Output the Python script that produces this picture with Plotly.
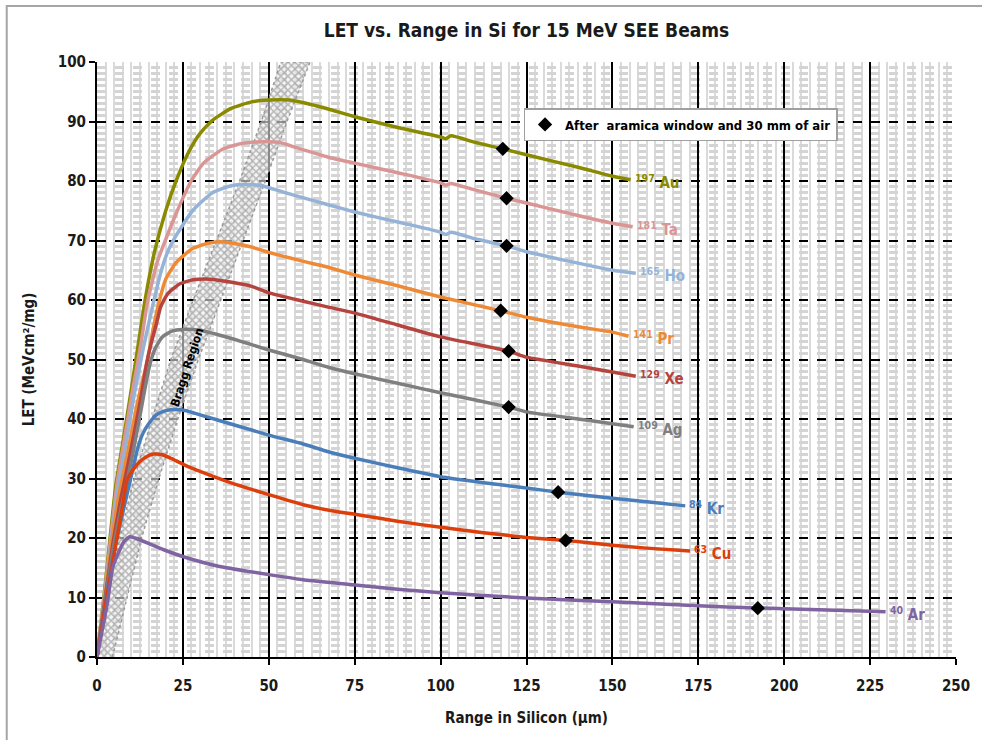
import plotly.graph_objects as go

FONT = "DejaVu Sans Condensed, Liberation Sans Narrow, Arial Narrow, sans-serif"

# ---- data (Range in Si, µm  /  LET, MeV·cm²/mg) ----
au_x = [0, 2, 3.8, 5.5, 7.5, 10, 12, 14, 16.7, 20, 23, 26.8, 30, 33.6, 39, 45, 50, 56, 62, 67.3, 75, 87.5, 100, 101.5, 103, 110, 118.1, 125, 140, 150, 155.3]
au_y = [0, 10, 20, 29, 36, 45, 52.5, 60, 68, 75, 80, 85, 88, 90.2, 92.2, 93.3, 93.6, 93.6, 92.9, 92.1, 90.8, 89.0, 87.4, 87.1, 87.6, 86.5, 85.4, 84.4, 82.3, 80.8, 80.2]

ta_x = [0, 2.1, 4, 5.8, 7.8, 10.4, 12.6, 14.8, 17.6, 20.2, 23, 27.4, 31, 36.4, 42, 48, 53, 58, 67.3, 75, 87.5, 100, 101.5, 103, 110, 119.2, 125, 140, 150, 155.9]
ta_y = [0, 10, 20, 29, 36, 45, 52, 60, 66.5, 70.5, 74.5, 80, 83, 85.3, 86.3, 86.6, 86.5, 85.6, 84, 83, 81.4, 79.7, 79.3, 79.6, 78.5, 77.1, 76.3, 74.2, 72.9, 72.3]

ho_x = [0, 2.2, 4.2, 6, 8.2, 10.8, 13.5, 16.2, 18.5, 20.5, 23, 27.8, 33.5, 39, 44, 48, 55, 67.3, 75, 87.5, 100, 101.5, 103, 110, 119.2, 125, 140, 150, 156.8]
ho_y = [0, 10, 20, 28, 35, 44, 52, 59, 64.5, 68, 70.8, 75, 78, 79.2, 79.4, 79.2, 78, 76, 74.8, 73.1, 71.4, 71.0, 71.4, 70.3, 69.1, 68.1, 66.2, 65, 64.5]

pr_x = [0, 2.3, 4.4, 6.3, 8.8, 11.5, 14.7, 16.3, 18.2, 20, 23, 27.7, 32, 36, 40, 45, 50, 60, 67.3, 75, 87.5, 100, 117.5, 125, 140, 150, 154.7]
pr_y = [0, 10, 20, 27, 34, 42, 50, 55, 60, 63.5, 66.3, 68.6, 69.5, 69.8, 69.5, 68.9, 68, 66.5, 65.5, 64.2, 62.4, 60.5, 58.2, 57.1, 55.5, 54.6, 53.9]

xe_x = [0, 2.4, 4.6, 6.9, 9.6, 12.6, 14.5, 15.8, 17.3, 18.5, 20.5, 24, 28, 33, 38, 45, 50, 60, 67.3, 75, 87.5, 100, 119.8, 125, 140, 150, 156.8]
xe_y = [0, 10, 19, 26.5, 34, 43, 49.5, 52.8, 56, 58.8, 61, 62.7, 63.4, 63.5, 63.1, 62.3, 61.2, 59.8, 58.8, 57.8, 55.8, 53.8, 51.4, 50.4, 48.9, 47.9, 47.2]

ag_x = [0, 2.5, 4.8, 7.2, 10, 12.5, 14.4, 15.5, 16.9, 19, 22, 26, 30, 35, 45, 50, 60, 67.3, 75, 87.5, 100, 119.8, 125, 140, 150, 156.2]
ag_y = [0, 10, 18.5, 25.5, 33, 40.5, 46.5, 49.4, 51.8, 53.8, 54.8, 55.1, 54.9, 54.2, 52.5, 51.6, 50.0, 48.7, 47.6, 46.0, 44.4, 42.0, 41.2, 40.0, 39.2, 38.7]

kr_x = [0, 2.7, 5.3, 8, 10.2, 11.8, 13.3, 14.8, 17.3, 20, 23, 26, 30, 40, 50, 60, 67.3, 75, 87.5, 100, 112.5, 125, 134.2, 150, 160, 171.2]
kr_y = [0, 10, 18.5, 25.5, 31, 35, 37.5, 39, 40.7, 41.4, 41.6, 41.4, 40.7, 39, 37.3, 35.8, 34.5, 33.4, 31.8, 30.3, 29.3, 28.4, 27.7, 26.7, 26.1, 25.4]

cu_x = [0, 2.8, 5.5, 7.5, 8.7, 10.4, 12.4, 14.5, 16.5, 19, 21.5, 25.4, 30, 38.4, 50.5, 60, 70, 75, 87.5, 100, 112.5, 125, 136.4, 150, 160, 172.6]
cu_y = [0, 10, 19, 25.5, 29.7, 31.4, 32.8, 33.7, 34.1, 34.0, 33.4, 32.3, 31.2, 29.4, 27.2, 25.6, 24.4, 24.0, 22.8, 21.8, 20.9, 20.1, 19.6, 18.8, 18.3, 17.8]

ar_x = [0, 3, 4.6, 6.6, 8, 9.5, 11, 15, 20, 25.4, 35, 50.5, 60, 70, 87.5, 100, 125, 150, 175, 192.3, 200, 215, 229.5]
ar_y = [0, 9, 15.1, 18, 19.5, 20.2, 20, 19.1, 17.9, 16.8, 15.3, 13.8, 13, 12.4, 11.4, 10.8, 9.9, 9.3, 8.6, 8.25, 8.1, 7.85, 7.6]

ion_names = ["Au", "Ta", "Ho", "Pr", "Xe", "Ag", "Kr", "Cu", "Ar"]
ion_mass = ["197", "181", "165", "141", "129", "109", "84", "63", "40"]
ion_colors = ["#8a8a00", "#d99694", "#95b3d7", "#ee8a35", "#b5443f", "#7f7f7f", "#4a7ebb", "#dc3f0c", "#8064a2"]
series_x = [au_x, ta_x, ho_x, pr_x, xe_x, ag_x, kr_x, cu_x, ar_x]
series_y = [au_y, ta_y, ho_y, pr_y, xe_y, ag_y, kr_y, cu_y, ar_y]

# "After aramica window and 30 mm of air" points
after_x = [118.1, 119.2, 119.2, 117.5, 119.8, 119.8, 134.2, 136.4, 192.3]
after_y = [85.4, 77.1, 69.1, 58.2, 51.4, 42.0, 27.7, 19.6, 8.2]

# Bragg region band edges
bragg_left_x = [0, 3, 6.5, 10.8, 16, 21.5, 28, 34.8, 41.5, 47.8, 53.5]
bragg_left_y = [0, 10, 20, 30, 40, 50, 60, 70, 80, 90, 100]
bragg_right_x = [4.5, 8.8, 13, 18, 23.5, 29.5, 36, 42.5, 49, 55.3, 62]
bragg_right_y = [0, 10, 20, 30, 40, 50, 60, 70, 80, 90, 100]

fig = go.Figure()

# Bragg band
fig.add_trace(go.Scatter(
    x=bragg_left_x + bragg_right_x[::-1],
    y=bragg_left_y + bragg_right_y[::-1],
    mode="lines", fill="toself",
    line=dict(color="#9a9a9a", width=1.5, dash="dot"),
    fillcolor="rgba(255,255,255,0)",
    fillpattern=dict(shape="x", fgcolor="#7a7a7a", bgcolor="rgba(240,240,240,0.6)", size=5, solidity=0.5),
    showlegend=False, hoverinfo="skip"))

for name, col, xs, ys in zip(ion_names, ion_colors, series_x, series_y):
    fig.add_trace(go.Scatter(x=xs, y=ys, mode="lines", name=name,
                             line=dict(color=col, width=3.5, shape="spline", smoothing=0.5),
                             showlegend=False))

fig.add_trace(go.Scatter(x=after_x, y=after_y, mode="markers",
                         name="After  aramica window and 30 mm of air",
                         marker=dict(symbol="diamond", size=11, color="black"),
                         showlegend=True))

# end labels
for name, mass, col, xs, ys in zip(ion_names, ion_mass, ion_colors, series_x, series_y):
    fig.add_annotation(x=xs[-1], y=ys[-1], xref="x", yref="y",
                       text=f"<b><sup>{mass}</sup> {name}</b>",
                       showarrow=False, xanchor="left", yanchor="middle",
                       xshift=2, yshift=-2,
                       font=dict(family=FONT, size=15, color=col))

fig.add_annotation(x=26.3, y=48.7, xref="x", yref="y", text="<b>Bragg Region</b>",
                   showarrow=False, textangle=-72,
                   font=dict(family=FONT, size=12, color="black"))

# outer chart frame
fig.add_shape(type="rect", xref="paper", yref="paper",
              x0=(6 - 97) / 866, x1=1.3,
              y0=-0.3, y1=(657 - 6) / 595,
              line=dict(color="#a6a6a6", width=2), layer="below")

fig.update_layout(
    width=982, height=740,
    margin=dict(l=97, r=19, t=62, b=83),
    paper_bgcolor="white", plot_bgcolor="white",
    font=dict(family=FONT, size=15, color="#1a1a1a"),
    title=dict(text="<b>LET vs. Range in Si for 15 MeV SEE Beams</b>",
               x=0.5, xref="paper", xanchor="center", y=1 - 30 / 740, yanchor="middle",
               font=dict(family=FONT, size=19, color="#1a1a1a")),
    legend=dict(x=(527 - 97) / 866, y=(657 - 108) / 595, xanchor="left", yanchor="top",
                bgcolor="white", bordercolor="#a0a0a0", borderwidth=1.5,
                font=dict(family=FONT, size=13, color="black", weight="bold"),
                itemwidth=30, tracegroupgap=0),
    showlegend=True,
)

fig.update_xaxes(range=[0, 250], dtick=25, tick0=0,
                 showgrid=True, gridcolor="black", gridwidth=2,
                 minor=dict(dtick=2.5, showgrid=True, gridcolor="#dadada", gridwidth=2),
                 showline=True, linecolor="black", linewidth=2,
                 ticks="outside", ticklen=6, tickwidth=2, tickcolor="black",
                 tickfont=dict(family=FONT, size=15, color="#1a1a1a", weight="bold"),
                 ticklabelstandoff=8,
                 title=dict(text="<b>Range in Silicon (µm)</b>", standoff=18,
                            font=dict(family=FONT, size=15, color="#1a1a1a")),
                 zeroline=False, mirror=False)

fig.update_yaxes(range=[0, 100], dtick=10, tick0=0,
                 showgrid=True, gridcolor="black", gridwidth=2, griddash="dash",
                 minor=dict(dtick=1, showgrid=True, gridcolor="#d4d4d4", gridwidth=2.5),
                 showline=True, linecolor="black", linewidth=2,
                 ticks="outside", ticklen=6, tickwidth=2, tickcolor="black",
                 tickfont=dict(family=FONT, size=15, color="#1a1a1a", weight="bold"),
                 title=dict(text="<b>LET (MeVcm²/mg)</b>", standoff=20,
                            font=dict(family=FONT, size=15, color="#1a1a1a")),
                 zeroline=False)

fig.write_html("out.html")
